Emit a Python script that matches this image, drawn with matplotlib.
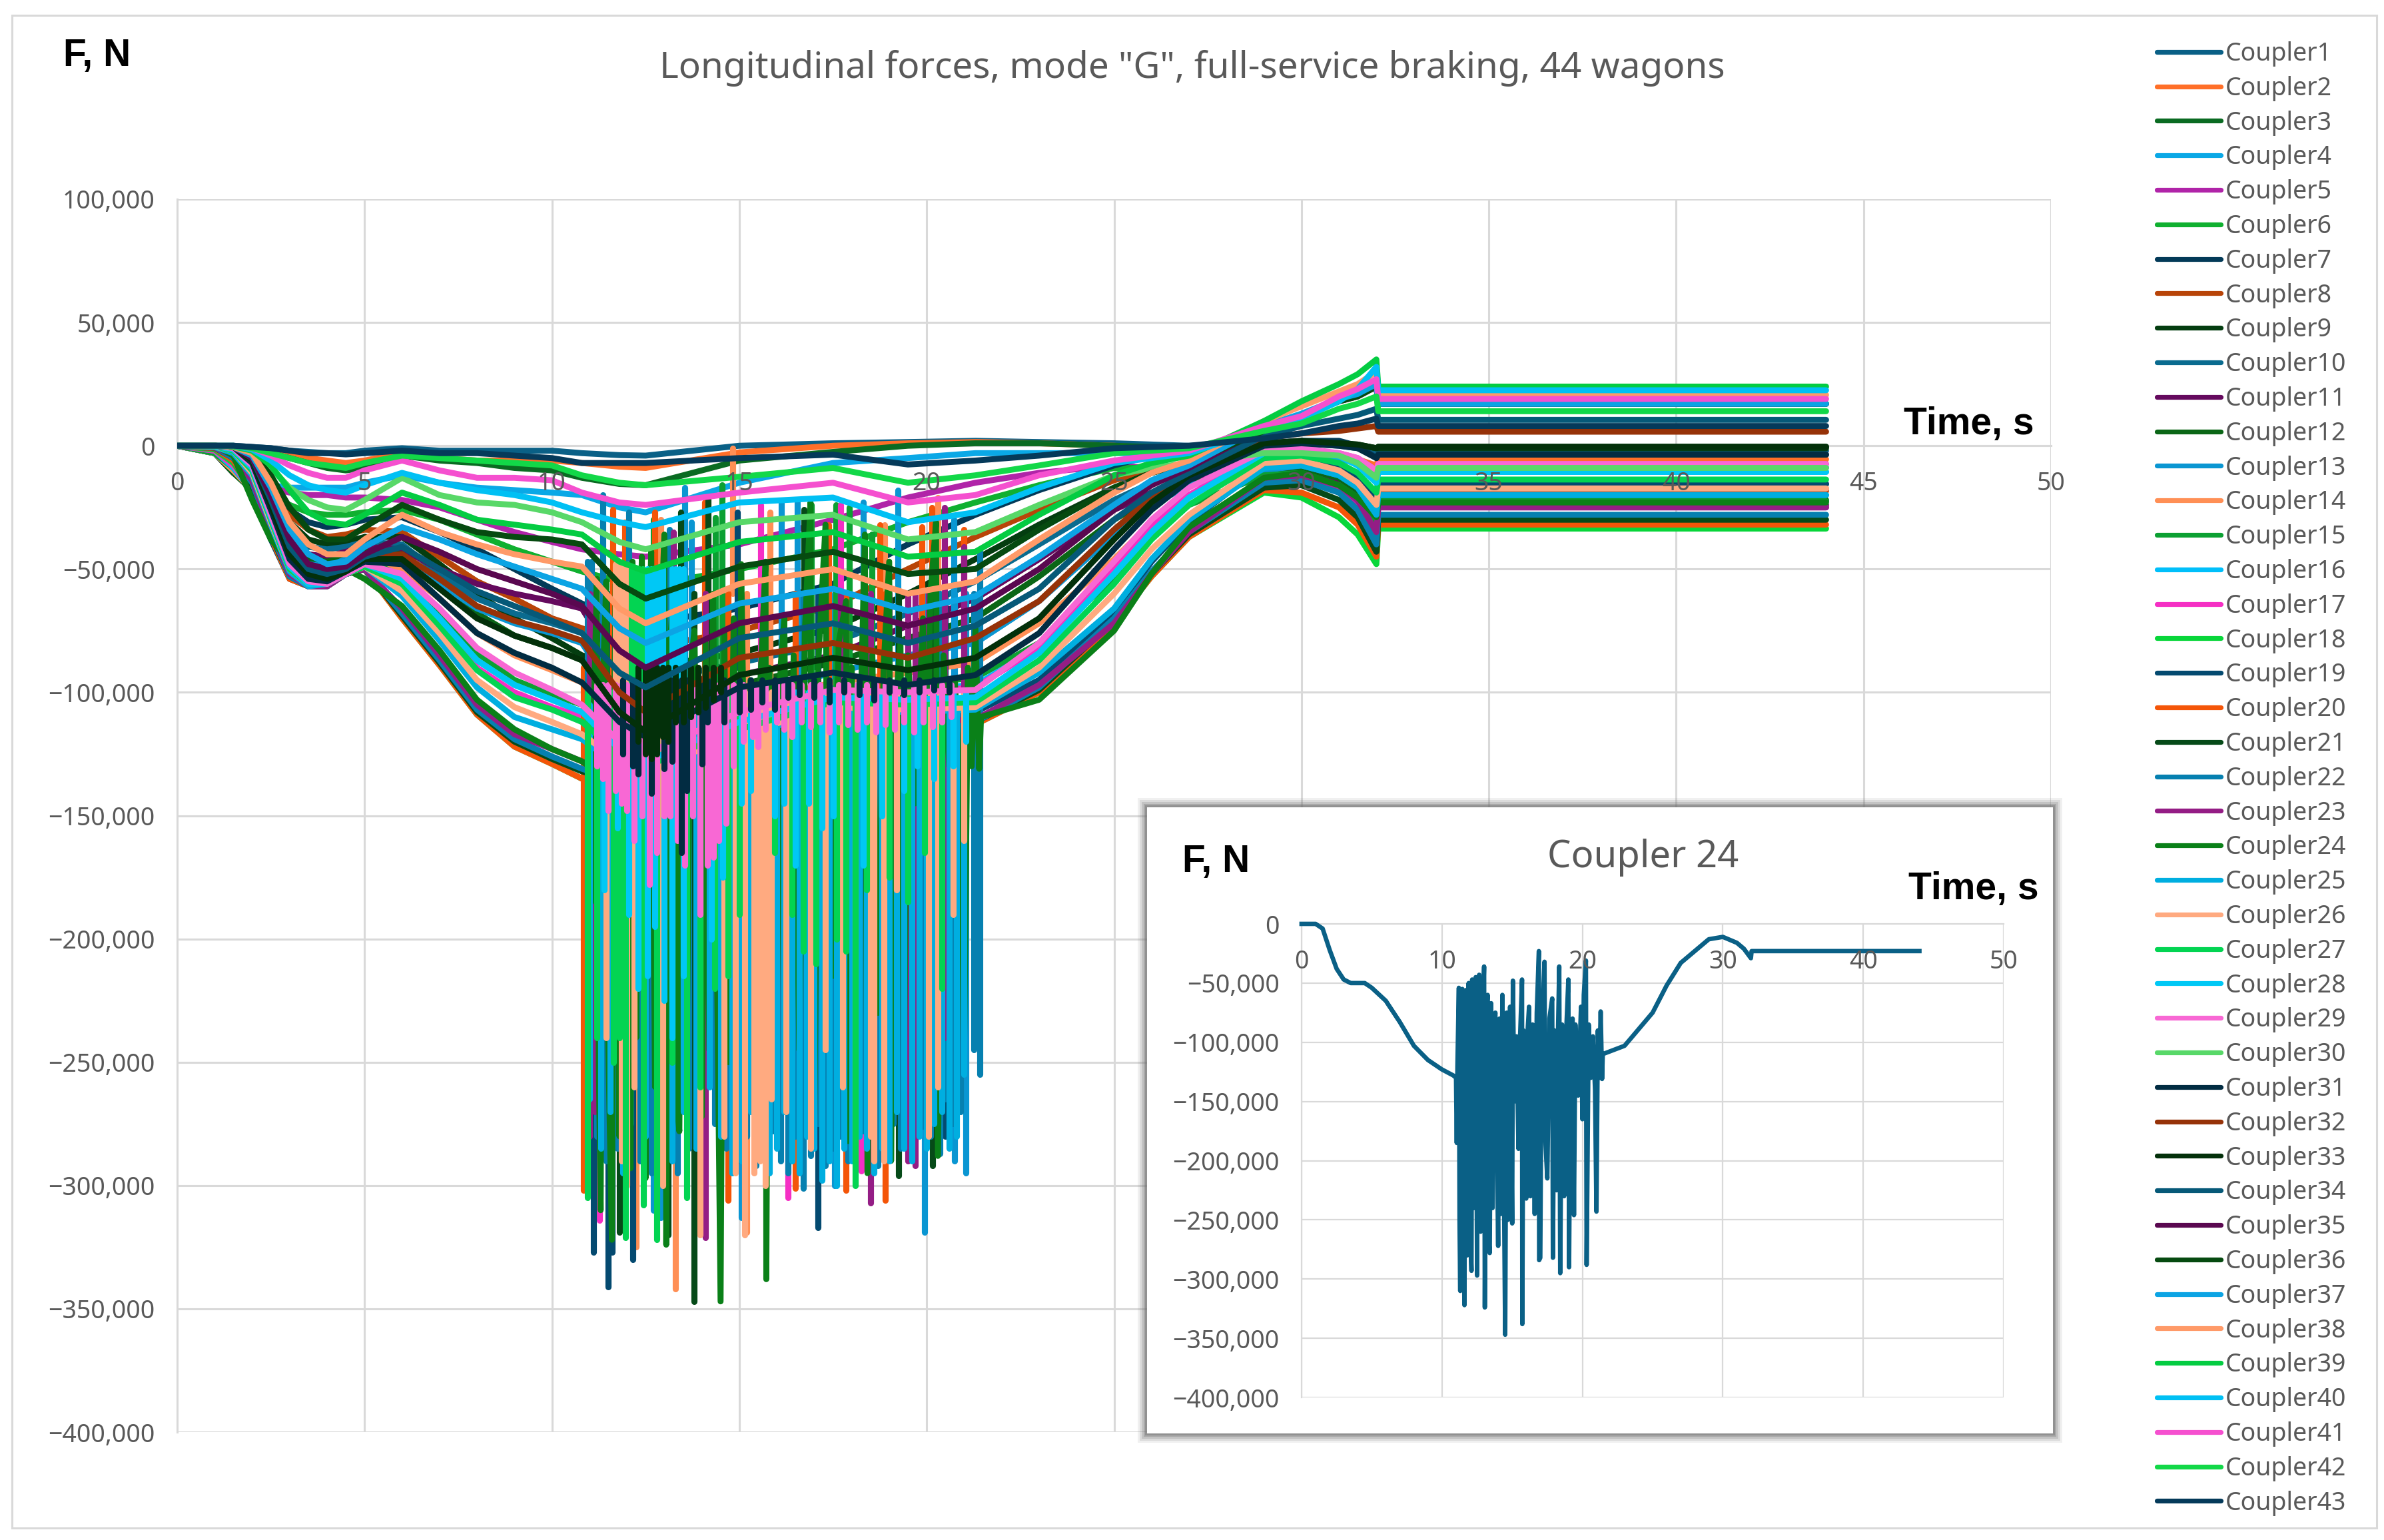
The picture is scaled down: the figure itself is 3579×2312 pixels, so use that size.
#! /usr/bin/env python3

import matplotlib
matplotlib.use('Agg')
import matplotlib.pyplot as plt
from matplotlib.patches import Rectangle
from matplotlib.ticker import FuncFormatter

plt.rcParams['font.family'] = ['Noto Sans', 'DejaVu Sans']

# time knots, s. forces below are in kN
time_s = [0, 1, 1.5, 2, 2.5, 3, 3.5, 4, 4.5, 5, 6, 7, 8, 9, 10, 10.8,
          11.8, 12.5, 15, 17.5, 19.5, 21.3,
          23, 25, 26, 27, 29, 30, 31, 31.5, 32, 32.05, 44]

coupler1 = [0, 0, 0, -.5, -1, -2, -2.5, -3, -3, -2, -1, -2, -2, -2, -2, -3, -3.8, -4, 0, 1, 1.5, 2, 1.5, 1, .5, 0, 1, 1, 0, -1, -3, -2, -2]
coupler2 = [0, 0, -.3, -1, -2, -3, -5, -6, -7, -6, -3, -5, -6, -6, -6, -7, -8.5, -9, -2.7, 0, 1, 1.5, 1, 0, -1, -2, -3, -3, -4, -5.5, -8, -5.5, -5.5]
coupler3 = [0, -.3, -1, -2, -3, -5, -7, -9, -10, -9, -4, -6, -7, -9, -10, -13, -15.5, -16, -6, -2.5, 0, 1, 1, 0, -.5, -1, 0, 1, 1, .3, -1, -.4, -.4]
coupler4 = [0, -3, -10, -14, -16, -17, -17, -17, -17, -15, -12, -15, -17, -18, -19, -20, -25, -27, -15, -7, -5, -3, -3, -3, -3, -3, -4, -4, -5, -7.5, -12, -8.8, -8.8]
coupler5 = [0, -2, -8, -13, -17, -19, -20, -20, -21, -21, -22, -25, -30, -35, -39, -42, -44, -45, -40, -30, -21, -15, -11, -8, -9, -11, -16, -14, -18, -24, -36, -25, -25]
coupler6 = [0, -2, -9, -14, -20, -24, -27, -28, -28, -27, -26, -30, -36, -42, -47, -51, -55, -57, -50, -42, -31, -23, -16, -9, -9, -9, -12, -10, -14, -20, -32, -22.3, -22.3]
coupler7 = [0, -2.5, -9, -14, -21, -26, -31, -33, -32, -30, -29, -35, -42, -50, -58, -64, -70, -72, -66, -56, -40, -28, -18, -8, -4, -2, 1, 2, 2, 0, -5, -3.6, -3.6]
coupler8 = [0, -2.5, -10, -15, -23, -28, -34, -37, -36, -34, -35, -45, -55, -62, -70, -74, -80, -82, -75, -65, -50, -37, -26, -14, -10, -8, -9, -7, -11, -16, -25, -18.3, -18.3]
coupler9 = [0, -2.5, -10, -16, -25, -31, -38, -40, -39, -37, -37, -48, -60, -70, -78, -85, -89, -90, -84, -74, -60, -46, -32, -17, -11, -7, 0, 1, 1, .5, -1, -1, -1]
coupler10 = [0, -3, -11, -16, -26, -34, -41, -42, -41, -39, -40, -52, -62, -68, -72, -76, -90, -96, -88, -80, -68, -55, -40, -22, -15, -11, -9, -7, -10, -14, -22, -15.5, -15.5]
coupler11 = [0, -3, -11, -17, -27, -37, -44, -45, -43, -41, -42, -50, -56, -60, -63, -66, -90, -100, -93, -85, -73, -62, -46, -26, -19, -14, -13, -11, -15, -21, -34, -24, -24]
coupler12 = [0, -3, -11, -18, -28, -40, -46, -47, -45, -43, -44, -56, -68, -77, -82, -87, -100, -105, -97, -88, -78, -70, -53, -30, -21, -15, -11, -9, -13, -19, -31, -22, -22]
coupler13 = [0, -3, -10, -18, -29, -42, -48, -49, -46, -44, -46, -56, -66, -72, -76, -80, -103, -112, -102, -92, -85, -80, -63, -36, -24, -16, -10, -8, -12, -17, -28, -20, -20]
coupler14 = [0, -3, -10, -18, -30, -44, -50, -50, -47, -45, -50, -62, -76, -85, -91, -96, -112, -118, -105, -96, -92, -88, -72, -46, -31, -20, -7, -6, -10, -15, -24, -17.3, -17.3]
coupler15 = [0, -3, -9, -18, -32, -46, -51, -52, -48, -46, -53, -68, -84, -95, -101, -105, -118, -123, -108, -99, -97, -94, -80, -54, -37, -24, -12, -11, -16, -21, -32, -22.5, -22.5]
coupler16 = [0, -2, -9, -18, -33, -48, -53, -53, -49, -46, -55, -70, -87, -97, -103, -108, -120, -125, -110, -101, -99, -97, -82, -52, -35, -21, -3, -2, -4, -8, -15, -10.6, -10.6]
coupler17 = [0, -2, -8, -18, -34, -50, -54, -54, -50, -47, -57, -72, -90, -100, -106, -110, -122, -127, -112, -102, -100, -98, -82, -50, -33, -20, -3, -2, -3, -5, -10, -7.4, -7.4]
coupler18 = [0, -1.5, -7, -18, -36, -52, -56, -56, -52, -50, -70, -89, -109, -122, -129, -135, -138, -140, -124, -114, -116, -113, -100, -72, -53, -37, -19, -21, -29, -36, -48, -33.6, -33.6]
coupler19 = [0, -1, -6, -18, -38, -54, -57, -56, -52, -50, -69, -88, -107, -120, -127, -132, -135, -137, -120, -108, -110, -108, -95, -68, -47, -31, -8, -6, -9, -13, -22, -15.5, -15.5]
coupler20 = [0, -1, -6, -17, -37, -54, -57, -57, -52, -50, -70, -89, -109, -122, -129, -135, -138, -140, -124, -113, -115, -113, -100, -72, -53, -37, -18, -19, -25, -32, -45, -32, -32]
coupler21 = [0, -.8, -5, -16, -36, -53, -57, -57, -52, -50, -69, -88, -108, -120, -127, -132, -137, -139, -123, -112, -114, -112, -99, -71, -52, -36, -17, -16, -22, -29, -43, -30, -30]
coupler22 = [0, -.7, -5, -15, -35, -53, -57, -57, -52, -50, -68, -87, -107, -119, -126, -131, -136, -138, -122, -111, -113, -112, -98, -70, -51, -35, -15, -14, -19, -26, -40, -28, -28]
coupler23 = [0, -.6, -4, -14, -34, -52, -57, -57, -52, -50, -66, -85, -105, -117, -123, -128, -134, -137, -121, -110, -112, -111, -97, -72, -52, -35, -13, -12, -16, -22, -35, -25, -25]
coupler24 = [0, 0, -4, -22, -38, -47, -50, -50, -50, -54, -65, -83, -103, -115, -123, -128, -132, -135, -120, -110, -112, -110, -103, -75, -52, -33, -13, -11, -16, -21, -29, -23, -23]
coupler25 = [0, -.5, -3, -12, -32, -51, -57, -56, -52, -49, -61, -79, -98, -110, -115, -119, -130, -134, -118, -107, -108, -107, -92, -66, -46, -30, -9, -8, -12, -17, -28, -20, -20]
coupler26 = [0, -.4, -2, -11, -31, -50, -56, -56, -52, -49, -59, -76, -95, -106, -112, -117, -128, -132, -117, -106, -107, -106, -90, -60, -42, -28, -7, -6, -10, -15, -24, -17.3, -17.3]
coupler27 = [0, -.3, -2, -10, -30, -50, -56, -56, -52, -49, -56, -73, -91, -102, -107, -112, -125, -130, -115, -104, -105, -104, -87, -56, -38, -24, -5, -4, -7, -11, -19, -13.7, -13.7]
coupler28 = [0, -.2, -1.5, -9, -29, -49, -56, -56, -52, -48, -54, -70, -87, -97, -103, -108, -123, -128, -112, -102, -103, -102, -84, -52, -35, -21, -3, -2, -4, -8, -15, -10.6, -10.6]
coupler29 = [0, 0, -1, -8, -28, -48, -55, -56, -52, -48, -52, -66, -82, -92, -99, -105, -120, -125, -108, -99, -100, -99, -80, -47, -30, -17, -2, -1, -3, -5, -10, -7.4, -7.4]
coupler30 = [0, 0, -.5, -3, -9, -17, -22, -25, -26, -22, -13, -20, -23, -24, -27, -31, -39, -42, -31, -28, -38, -35, -24, -12, -9, -7, -3, -3, -4, -7, -13, -9, -9]
coupler31 = [0, 0, -.5, -7, -26, -46, -54, -55, -51, -47, -48, -62, -76, -84, -90, -96, -112, -118, -98, -92, -97, -93, -76, -42, -26, -14, 0, 1, 0, -1, -5, -3.6, -3.6]
coupler32 = [0, 0, -.5, -6, -23, -43, -51, -53, -50, -45, -44, -54, -65, -71, -75, -79, -100, -108, -86, -80, -86, -78, -63, -34, -21, -11, 3, 5, 6, 7, 8, 5.7, 5.7]
coupler33 = [0, 0, -.5, -6, -24, -44, -52, -54, -51, -46, -46, -58, -70, -77, -82, -87, -108, -116, -93, -86, -91, -86, -70, -38, -23, -12, 1, 2, 1, .5, -1, -.4, -.4]
coupler34 = [0, 0, -.5, -5, -22, -41, -50, -52, -50, -45, -41, -50, -59, -65, -71, -76, -92, -98, -78, -72, -80, -73, -58, -30, -19, -11, 4, 8, 11, 12.5, 15, 10.5, 10.5]
coupler35 = [0, 0, -.5, -5, -20, -38, -48, -50, -49, -44, -37, -43, -50, -55, -60, -65, -83, -90, -72, -65, -73, -66, -50, -26, -16, -9, 7, 12, 18, 20, 24, 17, 17]
coupler36 = [0, 0, -.5, -3, -12, -25, -34, -38, -38, -33, -24, -30, -35, -37, -38, -40, -56, -62, -49, -43, -52, -50, -34, -17, -11, -7, 6, 12, 18, 20, 24, 17, 17]
coupler37 = [0, 0, -.5, -4, -17, -34, -44, -48, -47, -41, -33, -38, -44, -49, -54, -58, -74, -80, -64, -58, -67, -61, -45, -24, -14, -8, 8, 13, 19, 21, 25, 17, 17]
coupler38 = [0, 0, -.5, -3, -15, -31, -40, -44, -44, -38, -28, -35, -40, -44, -47, -49, -66, -72, -56, -50, -60, -55, -38, -19, -11, -6, 10, 16, 22, 25, 30, 20.6, 20.6]
coupler39 = [0, 0, -.3, -2, -8, -18, -27, -31, -32, -28, -19, -24, -30, -32, -34, -36, -47, -51, -39, -35, -45, -43, -28, -12, -7, -4, 10, 18, 25, 29, 35, 24, 24]
coupler40 = [0, 0, 0, -1.5, -6, -12, -16, -18, -19, -16, -11, -15, -18, -20, -23, -27, -31, -33, -23, -21, -31, -27, -17, -7, -5, -3, 7, 11, 18, 23, 32, 22.5, 22.5]
coupler41 = [0, 0, 0, -1, -4, -8, -11, -13, -13, -10, -6, -10, -13, -13, -14, -19, -23, -24, -19, -15, -23, -20, -12, -6, -4, -2, 8, 12, 20, 23, 27, 19, 19]
coupler42 = [0, 0, 0, -1, -3, -5, -7, -8, -9, -7, -4, -5, -6, -7, -8, -12, -15, -16, -12.6, -9, -15, -12, -8, -3, -2, -1, 6, 9, 15, 17, 20, 14, 14]
coupler43 = [0, 0, 0, -.5, -1, -2, -3, -3, -3.5, -3, -2, -3, -3, -4, -5, -7, -7, -7, -5, -3.6, -7.6, -6, -4, -1, -.5, 0, 3, 5, 8, 9, 11, 8, 8]

couplers = [coupler1, coupler2, coupler3, coupler4, coupler5, coupler6, coupler7, coupler8, coupler9,
            coupler10, coupler11, coupler12, coupler13, coupler14, coupler15, coupler16, coupler17,
            coupler18, coupler19, coupler20, coupler21, coupler22, coupler23, coupler24, coupler25,
            coupler26, coupler27, coupler28, coupler29, coupler30, coupler31, coupler32, coupler33,
            coupler34, coupler35, coupler36, coupler37, coupler38, coupler39, coupler40, coupler41,
            coupler42, coupler43]

colors = ['#0A6086', '#FF6F28', '#0A6B22', '#0AA8E6', '#B024A8', '#10B030', '#033A58', '#B84408', '#043D10',
          '#0A6B8F', '#650A5E', '#0A6616', '#0A96D2', '#FF8F55', '#0CA032', '#00BFFA', '#F52FC4', '#08D63A',
          '#044A70', '#F45508', '#064A18', '#0680B0', '#941D85', '#0A8018', '#00AEE0', '#FFAA80', '#03D452',
          '#00C8F5', '#F868D4', '#58D868', '#022C42', '#963208', '#03300A', '#065978', '#5A0850', '#064A10',
          '#0CA4E4', '#FF9A68', '#04CC42', '#00C0F4', '#F550CF', '#12D848', '#053A5A']

# coupler 24 during the shaking
burst_t = [11.0, 11.05, 11.1, 11.2, 11.25, 11.3, 11.35, 11.45, 11.5, 11.6, 11.65, 11.7, 11.8, 11.85, 11.9, 12.0,
           12.1, 12.15, 12.25, 12.3, 12.4, 12.5, 12.55, 12.65, 12.75, 12.85, 13.0, 13.05, 13.15, 13.25, 13.35, 13.4,
           13.5, 13.6, 13.7, 13.8, 14.0, 14.1, 14.2, 14.3, 14.5, 14.6, 14.7, 14.85, 15.0, 15.05, 15.15, 15.3,
           15.45, 15.55, 15.7, 15.72, 15.8, 15.9, 16.0, 16.1, 16.2, 16.3, 16.45, 16.6, 16.75, 16.9, 16.92, 17.0,
           17.1, 17.3, 17.35, 17.5, 17.65, 17.85, 17.9, 18.0, 18.15, 18.25, 18.35, 18.42, 18.55, 18.7, 18.85, 19.0,
           19.05, 19.15, 19.3, 19.4, 19.5, 19.7, 19.9, 20.0, 20.1, 20.25, 20.3, 20.45, 20.6, 20.75, 20.9, 21.0,
           21.1, 21.2, 21.3, 21.4, 21.45]
burst_f = [-130, -185, -120, -54, -250, -310, -100, -55, -240, -322, -120, -56, -280, -90, -50, -260,
           -293, -47, -240, -110, -45, -297, -100, -43, -260, -100, -36, -324, -80, -60, -270, -278,
           -67, -240, -90, -75, -272, -80, -245, -60, -347, -75, -250, -70, -253, -48, -150, -95,
           -190, -100, -47, -338, -90, -225, -232, -90, -70, -230, -85, -245, -75, -23, -284, -282,
           -90, -32, -180, -215, -80, -63, -282, -90, -225, -100, -36, -295, -85, -230, -90, -47,
           -290, -110, -80, -246, -85, -145, -70, -165, -60, -31, -288, -85, -130, -95, -140, -243,
           -90, -130, -74, -131, -110]

# spikes of the other couplers in the shaking part: time, upper end, lower end
c13_t = [12.7, 12.9, 15.05, 17.55, 19.95, 20.75, 21.05, 13.55, 13.72, 16.13, 16.55, 18.31, 19.23, 20.72]
c13_hi = [-60, -60, -70, -60, -60, -60, -60, -17, -31, -23, -23, -23, -18, -30]
c13_lo = [-310, -313, -313, -300, -319, -290, -295, -120, -120, -120, -120, -120, -120, -120]
c14_t = [12.25, 13.3, 15.2, 14.83, 15.82, 18.87, 20.3, 12.9]
c14_hi = [-60, -60, -60, -1, -27, -32, -21, -30]
c14_lo = [-325, -342, -319, -60, -110, -110, -110, -100]
c15_t = [12.7, 14.37, 14.54, 16.93, 17.58, 17.93, 18.54]
c15_hi = [-30, -29, -16, -24, -24, -25, -36]
c15_lo = [-100, -100, -100, -100, -100, -100, -100]
c17_t = [11.27, 16.3, 18.25, 15.57, 17.71]
c17_hi = [-100, -100, -100, -24, -24]
c17_lo = [-314, -305, -294, -90, -90]
c19_t = [11.11, 11.5, 11.6, 12.15, 17.1, 20.5, 14.94]
c19_hi = [-60, -60, -60, -60, -60, -60, -27]
c19_lo = [-327, -341, -327, -330, -317, -280, -90]
c20_t = [10.85, 14.7, 16.5, 17.85, 18.9, 11.63, 11.94, 12.74, 14.08, 17.38, 18.76, 19.88, 20.14, 21.0]
c20_hi = [-90, -60, -60, -60, -60, -26, -31, -27, -23, -32, -32, -33, -25, -34]
c20_lo = [-302, -306, -301, -302, -306, -100, -100, -100, -100, -100, -100, -100, -100, -100]
c21_t = [11.8, 13.1, 13.8, 19.25, 20.15, 13.43, 14.17, 16.73]
c21_hi = [-60, -60, -60, -60, -60, -27, -21, -26]
c21_lo = [-319, -320, -347, -296, -292, -100, -100, -100]
c22_t = [10.95, 11.05, 11.36, 12.05, 13.13, 20.35, 21.25, 21.41, 16.7]
c22_hi = [-47, -47, -20, -27, -34, -60, -60, -43, -60]
c22_lo = [-200, -200, -120, -120, -120, -287, -245, -255, -301]
c22_fill_t = [11.2, 11.45, 11.75, 12.1, 12.35, 12.65, 13.0, 13.35, 13.65, 14.0,
              14.35, 14.65, 14.95, 15.2, 15.45, 15.7, 15.9, 16.1, 16.3, 16.5,
              16.9, 17.1, 17.3, 17.5, 17.7, 17.9, 18.1, 18.3, 18.5, 18.7,
              18.9, 19.1, 19.3, 19.5, 19.7, 19.9, 20.1, 20.3, 20.5, 20.7, 20.9]
c22_fill_lo = [-280, -290, -285, -275, -290, -295, -280, -295, -285, -290,
               -275, -285, -290, -280, -292, -285, -278, -290, -295, -280,
               -288, -275, -292, -285, -280, -290, -284, -278, -288, -292,
               -280, -275, -285, -270, -282, -276, -280, -270, -265, -275, -270]
c23_t = [11.0, 11.15, 13.25, 14.1, 18.5, 19.5, 19.7, 20.47, 21.0, 20.05, 19.0, 17.7]
c23_hi = [-60, -60, -35, -60, -60, -60, -60, -25, -41, -60, -60, -60]
c23_lo = [-280, -270, -120, -321, -307, -290, -292, -240, -140, -260, -270, -250]

c25_t = [11.0, 11.3, 11.55, 11.9, 12.2, 12.5, 12.85, 13.2, 13.5, 13.85,
         14.2, 14.5, 14.8, 15.05, 15.3, 15.55, 15.8, 16.0, 16.2, 16.4,
         16.6, 16.8, 17.0, 17.2, 17.4, 17.6, 17.8, 18.0, 18.2, 18.4,
         18.6, 18.8, 19.0, 19.2, 19.4, 19.6, 19.8, 20.0, 20.2, 20.4,
         20.6, 20.8, 21.0]
c25_lo = [-265, -285, -270, -295, -250, -280, -265, -290, -270, -285,
          -260, -280, -295, -290, -270, -280, -295, -285, -270, -290,
          -295, -280, -285, -298, -290, -300, -285, -290, -280, -285,
          -295, -285, -290, -270, -285, -290, -280, -285, -275, -270,
          -285, -280, -255]
c26_t = [11.45, 11.85, 12.0, 12.2, 12.95, 13.95, 14.6, 14.9, 15.15, 15.4,
         15.55, 15.7, 15.85, 16.25, 16.9, 17.3, 17.75, 18.1, 18.5, 18.6,
         18.85, 19.2, 20.05, 20.3, 20.7, 21.0]
c26_lo = [-240, -290, -300, -260, -300, -320, -280, -295, -320, -295,
          -290, -300, -265, -270, -285, -245, -260, -290, -280, -290,
          -290, -180, -280, -260, -190, -160]
c26_block_t = [11.7, 11.8, 11.9, 12.0]
c27_t = [10.95, 11.2, 11.65, 11.8, 11.97, 12.45, 12.8, 13.2, 13.6, 13.95,
         14.35, 14.7, 15.0, 15.95, 16.4, 16.7, 17.05, 17.6, 17.85, 18.1,
         18.4, 19.0, 19.5, 19.95, 20.4]
c27_lo = [-305, -240, -250, -240, -321, -308, -322, -250, -305, -260,
          -220, -215, -190, -165, -190, -205, -210, -200, -205, -300,
          -180, -175, -185, -165, -220]
c27_block_t = [12.12, 12.22, 12.32, 12.42]
c28_t = [11.4, 11.75, 12.05, 12.3, 12.55, 12.75, 13.0, 13.2, 13.5, 14.25,
         14.55, 15.05, 15.3, 15.95, 16.2, 16.5, 16.85, 17.2, 17.5, 18.3,
         18.8, 19.4, 19.75, 20.2, 20.7, 21.05]
c28_lo = [-180, -155, -190, -220, -215, -195, -225, -240, -215, -200,
          -175, -145, -140, -150, -145, -170, -145, -155, -150, -170,
          -150, -140, -130, -135, -130, -120]
c28_block_t = [12.55, 12.65, 12.75, 12.85, 12.95, 13.2, 13.3, 13.4, 13.5]
c29_t = [11.2, 11.35, 11.5, 11.7, 11.85, 12.0, 12.2, 12.4, 12.6, 12.8,
         13.0, 13.15, 13.35, 13.55, 13.75, 13.95, 14.15, 14.3, 14.45, 14.65,
         14.85, 15.1, 15.35, 15.5, 15.7, 16.0, 16.2, 16.4, 16.65, 16.9,
         17.15, 17.4, 17.65, 17.9, 18.15, 18.4, 18.65, 18.9, 19.15, 19.4,
         19.65, 19.9, 20.15, 20.4, 20.65]
c29_lo = [-130, -135, -148, -140, -145, -148, -160, -150, -178, -165,
          -150, -150, -160, -170, -150, -190, -170, -167, -160, -153,
          -130, -120, -118, -122, -115, -112, -115, -118, -112, -114,
          -112, -116, -112, -113, -115, -112, -116, -113, -115, -112,
          -116, -112, -114, -112, -110]
c31_t = [11.9, 12.15, 12.3, 12.65, 13.0, 13.2, 13.45, 13.6, 14.0, 14.15,
         14.6, 15.0, 15.3, 15.6, 15.95, 16.3, 16.6, 17.0, 17.4, 17.8,
         18.2, 18.6, 19.0, 19.4, 19.8, 20.2, 20.6]
c31_lo = [-125, -130, -133, -141, -131, -128, -165, -140, -129, -112,
          -112, -108, -107, -104, -107, -102, -101, -102, -104, -100,
          -101, -103, -100, -101, -100, -99, -100]
c33_t = [12.3, 12.5, 12.65, 12.8, 12.95, 13.1, 13.3, 13.5, 13.7, 13.9, 14.1, 14.3, 14.5]
c33_lo = [-120, -125, -127, -125, -118, -120, -112, -112, -110, -108, -106, -103, -100]

spikes = {13: [(c13_t, c13_hi, c13_lo)], 14: [(c14_t, c14_hi, c14_lo)], 15: [(c15_t, c15_hi, c15_lo)],
          17: [(c17_t, c17_hi, c17_lo)], 19: [(c19_t, c19_hi, c19_lo)], 20: [(c20_t, c20_hi, c20_lo)],
          21: [(c21_t, c21_hi, c21_lo)], 22: [(c22_fill_t, -105, c22_fill_lo), (c22_t, c22_hi, c22_lo)],
          23: [(c23_t, c23_hi, c23_lo)], 25: [(c25_t, -105, c25_lo)],
          26: [(c26_t, -100, c26_lo), (c26_block_t, -48, -105)],
          27: [(c27_t, -100, c27_lo), (c27_block_t, -50, -105)],
          28: [(c28_t, -100, c28_lo), (c28_block_t, -50, -105)],
          29: [(c29_t, -97, c29_lo)], 31: [(c31_t, -95, c31_lo)], 33: [(c33_t, -90, c33_lo)]}

main_xticks = [0, 5, 10, 15, 20, 25, 30, 35, 40, 45, 50]
main_yticks = [100000, 50000, 0, -50000, -100000, -150000, -200000, -250000, -300000, -350000, -400000]
inset_xticks = [0, 10, 20, 30, 40, 50]
inset_yticks = [0, -50000, -100000, -150000, -200000, -250000, -300000, -350000, -400000]

W, H = 3579, 2312
GRID = '#d9d9d9'
TEXT = '#595959'
BOLD = ['Liberation Sans Narrow', 'Liberation Sans']


def box(left, top, right, bottom):
    # pixel box of the reference to figure fractions
    return [left / W, 1 - bottom / H, (right - left) / W, (bottom - top) / H]


def fmt(v, pos):
    return '{:,.0f}'.format(v).replace('-', '\u2212')


def kn(values):
    if isinstance(values, list):
        return [v * 1000 for v in values]
    return values * 1000


def style_axes(a, xticks, yticks, ymax, pad, grid_lw):
    a.set_xlim(0, 50)
    a.set_ylim(-400000, ymax)
    a.set_xticks(xticks)
    a.set_yticks(yticks)
    a.yaxis.set_major_formatter(FuncFormatter(fmt))
    a.tick_params(axis='both', length=0, labelsize=27, labelcolor=TEXT)
    a.tick_params(axis='x', pad=pad)
    a.tick_params(axis='y', pad=24)
    a.grid(True, axis='y', color=GRID, lw=grid_lw)
    # vertical grid by hand so the time labels can sit on top of the curves
    a.vlines(xticks, -400000, ymax, color=GRID, lw=grid_lw, zorder=1)
    a.xaxis.set_zorder(50)
    for s in ['top', 'right']:
        a.spines[s].set_visible(False)
    a.spines['left'].set_color(GRID)
    a.spines['left'].set_linewidth(grid_lw)
    a.spines['bottom'].set_position(('data', 0))
    a.spines['bottom'].set_color(GRID)
    a.spines['bottom'].set_linewidth(grid_lw)


fig = plt.figure(figsize=(W / 100, H / 100), dpi=100, facecolor='white')
fig.add_artist(Rectangle((18 / W, 1 - 2294 / H), 3550 / W, 2271 / H, transform=fig.transFigure,
                         fc='none', ec=GRID, lw=2.2))

ax = fig.add_axes(box(266, 299, 3079, 2150))
style_axes(ax, main_xticks, main_yticks, 100000, 27, 2.2)

for k in range(1, 44):
    row = couplers[k - 1]
    z = 3 + k * 0.01
    if k == 24:
        t = time_s[:16] + burst_t + time_s[22:]
        f = row[:16] + burst_f + row[22:]
    else:
        t, f = time_s, row
    ax.plot(t, kn(f), color=colors[k - 1], lw=6.4, zorder=z,
            solid_capstyle='round', solid_joinstyle='round', label='Coupler{}'.format(k))
    for sp_t, sp_hi, sp_lo in spikes.get(k, []):
        ax.vlines(sp_t, kn(sp_lo), kn(sp_hi), color=colors[k - 1], lw=6.6, zorder=z, capstyle='round')

fig.text(1790 / W, 1 - 102 / H, 'Longitudinal forces, mode "G", full-service braking, 44 wagons',
         ha='center', va='center', fontsize=39.5, color=TEXT)
fig.text(146 / W, 1 - 84 / H, 'F, N', ha='center', va='center', fontsize=41, fontweight='bold',
         family=BOLD, color='black')
fig.text(2956 / W, 1 - 637 / H, 'Time, s', ha='center', va='center', fontsize=41, fontweight='bold',
         family=BOLD, color='black', zorder=6)

handles, labels = ax.get_legend_handles_labels()
leg = fig.legend(handles, labels, loc='upper left', bbox_to_anchor=(3238 / W, 1 - 62 / H), frameon=False,
                 fontsize=27, labelcolor=TEXT, handlelength=2.55, handletextpad=0.2, labelspacing=0.368,
                 borderpad=0, borderaxespad=0)
for line in leg.get_lines():
    line.set_linewidth(5.2)

# inset box with a soft grey shadow
for grow, alpha in [(14, 0.10), (11, 0.16), (8, 0.22), (5, 0.30), (3, 0.40)]:
    fig.add_artist(Rectangle(((1722 - grow) / W, 1 - (2152 + grow) / H), (1360 + 2 * grow) / W, (940 + 2 * grow) / H,
                             transform=fig.transFigure, fc='#6e6e6e', ec='none', alpha=alpha, zorder=5))
fig.add_artist(Rectangle((1722 / W, 1 - 2152 / H), 1360 / W, 940 / H, transform=fig.transFigure,
                         fc='white', ec='none', zorder=5.5))

ins = fig.add_axes(box(1954, 1387, 3008, 2098), zorder=10)
ins.patch.set_alpha(0)
style_axes(ins, inset_xticks, inset_yticks, 0, 27, 1.6)
ins.plot(time_s[:16] + burst_t + time_s[22:], kn(coupler24[:16] + burst_f + coupler24[22:]),
         color='#0A6086', lw=4.8, zorder=3, solid_joinstyle='round', clip_on=False)

fig.text(2467 / W, 1 - 1287 / H, 'Coupler 24', ha='center', va='center', fontsize=40.5, color=TEXT, zorder=11)
fig.text(1826 / W, 1 - 1294 / H, 'F, N', ha='center', va='center', fontsize=41, fontweight='bold',
         family=BOLD, color='black', zorder=11)
fig.text(2963 / W, 1 - 1335 / H, 'Time, s', ha='center', va='center', fontsize=41, fontweight='bold',
         family=BOLD, color='black', zorder=11)

fig.savefig('out.png', dpi=100)
